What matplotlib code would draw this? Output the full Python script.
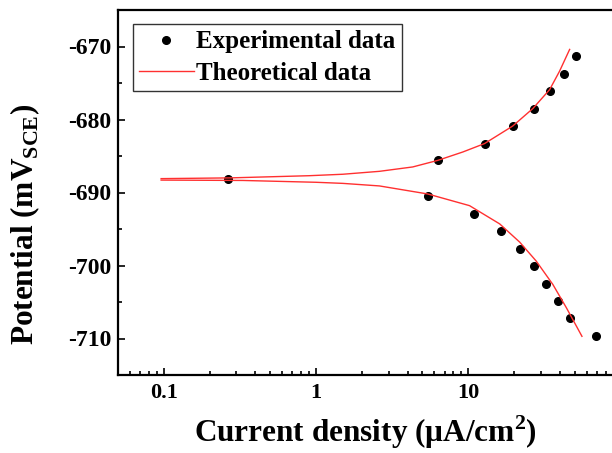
import numpy as np
import matplotlib
matplotlib.use("Agg")
import matplotlib.pyplot as plt
from matplotlib.ticker import LogLocator, FuncFormatter, MultipleLocator, NullFormatter

# experimental points (uA/cm2, mV vs SCE)
exp_i = [0.266, 6.31, 12.8, 19.6, 26.9, 34.7, 42.4, 50.8,
         5.48, 11.0, 16.5, 22.0, 27.0, 32.3, 38.7, 46.7, 69.5]
exp_E = [-688.1, -685.6, -683.3, -680.9, -678.5, -676.05, -673.7, -671.3,
         -690.5, -692.9, -695.3, -697.75, -700.05, -702.5, -704.9, -707.25, -709.7]

# fitted curves, anodic and cathodic branch
fit_an_i = [0.096, 0.27, 0.9, 1.5, 2.61, 4.32, 6.31, 9.22, 12.8, 19.6, 26.6, 34.3, 39.8, 46.4]
fit_an_E = [-688.1, -688.0, -687.7, -687.5, -687.1, -686.5, -685.6, -684.45,
            -683.3, -680.9, -678.5, -675.9, -673.4, -670.4]
fit_ca_i = [0.096, 0.33, 1.0, 1.5, 2.61, 5.42, 10.2, 16.1, 21.8, 28.0, 36.0, 44.2, 55.9]
fit_ca_E = [-688.3, -688.35, -688.6, -688.75, -689.1, -690.2, -691.8, -694.3,
            -696.8, -699.4, -702.6, -705.8, -709.7]

plt.rcParams['font.family'] = ['Liberation Serif', 'DejaVu Serif']
plt.rcParams['font.weight'] = 'bold'
plt.rcParams['axes.unicode_minus'] = False

fig = plt.figure(figsize=(6.12, 4.53), dpi=100)
ax = fig.add_axes([118 / 612, 78 / 453, 499 / 612, 365 / 453])

ax.plot(exp_i, exp_E, 'o', color='black', markersize=5.5, label='Experimental data')
ax.plot(fit_an_i, fit_an_E, '-', color='#ff3030', lw=1, label='Theoretical data')
ax.plot(fit_ca_i, fit_ca_E, '-', color='#ff3030', lw=1)

ax.set_xscale('log')
ax.set_xlim(0.05, 95)
ax.set_ylim(-715, -665)
ax.xaxis.set_major_locator(LogLocator(base=10))
ax.xaxis.set_major_formatter(FuncFormatter(lambda v, p: f"{v:g}"))
ax.xaxis.set_minor_formatter(NullFormatter())
ax.yaxis.set_major_locator(MultipleLocator(10))
ax.yaxis.set_minor_locator(MultipleLocator(5))

ax.tick_params(which='both', direction='in', top=False, right=False, width=1.2)
ax.tick_params(which='major', length=5)
ax.tick_params(which='minor', length=3)
ax.tick_params(axis='x', labelsize=16, pad=6)
ax.tick_params(axis='y', labelsize=17, pad=5)
for s in ax.spines.values():
    s.set_linewidth(1.6)

leg = ax.legend(loc='upper left', bbox_to_anchor=(0.0293, 0.9616), borderaxespad=0,
                fontsize=18, numpoints=1, handlelength=2.2, handletextpad=0.1,
                borderpad=0.25, labelspacing=0.35, fancybox=False, framealpha=1)
leg.get_frame().set_edgecolor('#333333')
leg.get_frame().set_linewidth(1.0)

fig.text(0.597, 0.025, "Current density (\u03bcA/cm$^{\\mathregular{2}}$)",
         ha='center', va='baseline', fontsize=22.5, fontweight='bold')
fig.text(0.054, 0.5055, "Potential (mV$_{\\mathregular{SCE}}$)",
         ha='center', va='baseline', rotation=90, rotation_mode='anchor',
         fontsize=22.5, fontweight='bold')

fig.savefig('out.png', dpi=100)
